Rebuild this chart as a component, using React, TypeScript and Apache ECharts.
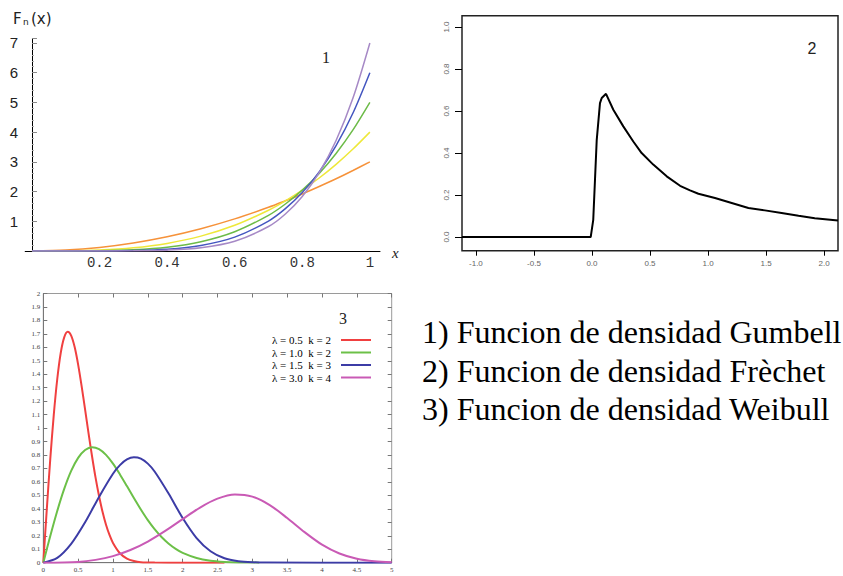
import React, { useEffect, useRef } from "react";
import * as echarts from "echarts";

// ---- Chart 1: Gumbell panel (F_n(x)) ----
const gumbelX = [0, 0.1, 0.2, 0.3, 0.4, 0.5, 0.6, 0.7, 0.75, 0.8, 0.85, 0.9, 0.95, 1];
const gumbelN3 = [0, 0.03, 0.12, 0.27, 0.48, 0.75, 1.08, 1.47, 1.69, 1.92, 2.17, 2.43, 2.71, 3];
const gumbelN4 = [0, 0.004, 0.032, 0.108, 0.256, 0.5, 0.864, 1.372, 1.688, 2.048, 2.456, 2.916, 3.43, 4];
const gumbelN5 = [0, 0.001, 0.008, 0.041, 0.128, 0.313, 0.648, 1.2, 1.582, 2.048, 2.61, 3.281, 4.073, 5];
const gumbelN6 = [0, 0, 0.002, 0.015, 0.061, 0.188, 0.467, 1.008, 1.424, 1.966, 2.662, 3.543, 4.643, 6];
const gumbelN7 = [0, 0, 0, 0.005, 0.029, 0.109, 0.327, 0.824, 1.246, 1.835, 2.64, 3.72, 5.146, 7];
const gumbelSeriesNames = ["n = 3", "n = 4", "n = 5", "n = 6", "n = 7"];
const gumbelXTicks = [0.2, 0.4, 0.6, 0.8, 1];
const gumbelYTicks = [1, 2, 3, 4, 5, 6, 7];

// ---- Chart 2: Frèchet panel ----
const frechetX = [-1.12, -0.011, 0.011, 0.026, 0.041, 0.069, 0.084, 0.121, 0.184, 0.27, 0.356, 0.428, 0.528, 0.644, 0.759, 0.845, 0.917, 1.06, 1.204, 1.348, 1.49, 1.634, 1.78, 1.92, 2.12];
const frechetY = [0, 0, 0.082, 0.273, 0.463, 0.638, 0.662, 0.682, 0.606, 0.527, 0.455, 0.4, 0.345, 0.289, 0.244, 0.222, 0.206, 0.186, 0.162, 0.138, 0.127, 0.114, 0.101, 0.09, 0.079];
const frechetXTicks = [-1, -0.5, 0, 0.5, 1, 1.5, 2];
const frechetYTicks = [0, 0.2, 0.4, 0.6, 0.8, 1];

// ---- Chart 3: Weibull panel ----
const weibullNames = ["λ = 0.5  k = 2", "λ = 1.0  k = 2", "λ = 1.5  k = 3", "λ = 3.0  k = 4"];
const weibullRedX = [0, 0.05, 0.1, 0.15, 0.2, 0.25, 0.3, 0.35, 0.4, 0.45, 0.5, 0.55, 0.6, 0.65, 0.7, 0.75, 0.8, 0.85, 0.9, 0.95, 1.0, 1.1, 1.2, 1.3, 1.4, 1.6, 2.0, 2.6];
const weibullRedY = [0, 0.396, 0.769, 1.097, 1.363, 1.558, 1.674, 1.715, 1.687, 1.602, 1.472, 1.312, 1.137, 0.959, 0.789, 0.632, 0.495, 0.378, 0.282, 0.206, 0.147, 0.07, 0.03, 0.012, 0.004, 0.001, 0, 0];
const weibullGreenX = [0, 0.1, 0.2, 0.3, 0.4, 0.5, 0.6, 0.7, 0.8, 0.9, 1.0, 1.1, 1.2, 1.3, 1.4, 1.5, 1.6, 1.7, 1.8, 1.9, 2.0, 2.2, 2.4, 2.6, 2.8, 3.0, 3.1];
const weibullGreenY = [0, 0.198, 0.384, 0.548, 0.682, 0.779, 0.837, 0.858, 0.844, 0.801, 0.736, 0.656, 0.569, 0.48, 0.395, 0.316, 0.247, 0.189, 0.141, 0.103, 0.073, 0.035, 0.015, 0.006, 0.002, 0.001, 0];
const weibullBlueX = [0, 0.2, 0.4, 0.6, 0.8, 1.0, 1.1, 1.2, 1.3, 1.4, 1.5, 1.6, 1.8, 2.0, 2.2, 2.4, 2.6, 2.8, 3.0, 3.2, 5];
const weibullBlueY = [0, 0.036, 0.14, 0.3, 0.489, 0.661, 0.725, 0.767, 0.783, 0.773, 0.736, 0.676, 0.512, 0.332, 0.183, 0.085, 0.033, 0.011, 0.003, 0.001, 0];
const weibullMagentaX = [0, 0.5, 0.75, 1.0, 1.25, 1.5, 1.75, 2.0, 2.25, 2.5, 2.75, 3.0, 3.25, 3.5, 3.75, 4.0, 4.25, 4.5, 4.75, 5.0];
const weibullMagentaY = [0, 0.006, 0.021, 0.049, 0.094, 0.157, 0.236, 0.324, 0.41, 0.476, 0.507, 0.491, 0.428, 0.332, 0.227, 0.134, 0.068, 0.029, 0.01, 0.003];

// ---- Captions ----
const captions = [
  "1) Funcion de densidad Gumbell",
  "2) Funcion de densidad Frèchet",
  "3) Funcion de densidad Weibull",
];

const zip = (xs: number[], ys: number[]) => xs.map((x, i) => [x, ys[i]]);

export default function App() {
  const ref = useRef<HTMLDivElement>(null);

  useEffect(() => {
    if (!ref.current) return;
    const chart = echarts.init(ref.current, null, { renderer: "svg" });

    const gumbelColors = ["#f6923a", "#eee83a", "#6cbb48", "#4456c0", "#a689c6"];
    const gumbelSets = [gumbelN3, gumbelN4, gumbelN5, gumbelN6, gumbelN7];
    const weibullColors = ["#f04040", "#6cc048", "#3c3ca6", "#c95ab5"];
    const weibullSets = [
      zip(weibullRedX, weibullRedY),
      zip(weibullGreenX, weibullGreenY),
      zip(weibullBlueX, weibullBlueY),
      zip(weibullMagentaX, weibullMagentaY),
    ];

    const series: any[] = [];
    gumbelSets.forEach((ys, i) => {
      series.push({
        type: "line",
        name: gumbelSeriesNames[i],
        xAxisIndex: 0,
        yAxisIndex: 0,
        data: zip(gumbelX, ys),
        smooth: 0.3,
        showSymbol: false,
        lineStyle: { color: gumbelColors[i], width: 1.5 },
        itemStyle: { color: gumbelColors[i] },
      });
    });
    series.push({
      type: "line",
      name: "Frèchet",
      xAxisIndex: 1,
      yAxisIndex: 1,
      data: zip(frechetX, frechetY),
      showSymbol: false,
      lineStyle: { color: "#000", width: 2 },
      itemStyle: { color: "#000" },
    });
    weibullSets.forEach((d, i) => {
      series.push({
        type: "line",
        name: weibullNames[i],
        xAxisIndex: 2,
        yAxisIndex: 2,
        data: d,
        smooth: 0.3,
        showSymbol: false,
        lineStyle: { color: weibullColors[i], width: 2 },
        itemStyle: { color: weibullColors[i] },
      });
    });

    const option: any = {
      animation: false,
      backgroundColor: "#ffffff",
      grid: [
        { left: 25.2, right: 463, top: 38.5, bottom: 325 },
        { left: 462, right: 5, top: 15.7, bottom: 325.3, show: true, borderColor: "#222", borderWidth: 1.5, backgroundColor: "transparent" },
        { left: 43.3, right: 451.3, top: 293.5, bottom: 13.3, show: true, borderColor: "#9a9a9a", borderWidth: 1, backgroundColor: "transparent" },
      ],
      legend: {
        data: weibullNames,
        orient: "vertical",
        left: 267,
        top: 329,
        align: "right",
        icon: "rect",
        itemWidth: 30,
        itemHeight: 2,
        itemGap: 0.5,
        selectedMode: false,
        textStyle: {
          fontFamily: "Liberation Serif",
          fontSize: 11,
          color: "#000",
          lineHeight: 12,
          padding: [0, 5, 0, 0],
        },
      },
      xAxis: [
        {
          gridIndex: 0,
          type: "value",
          min: -0.02,
          max: 1.03,
          axisLine: { onZero: true, lineStyle: { color: "#000", width: 1 } },
          axisTick: { show: false },
          splitLine: { show: false },
          axisLabel: {
            customValues: gumbelXTicks,
            formatter: (v: number) => String(v),
            fontFamily: "Liberation Mono",
            fontSize: 14,
            color: "#333",
            margin: 5,
          },
        },
        {
          gridIndex: 1,
          type: "value",
          min: -1.12,
          max: 2.12,
          axisLine: { show: false, onZero: false },
          axisTick: { show: true, customValues: frechetXTicks, length: 5, lineStyle: { color: "#000", width: 1 } },
          splitLine: { show: false },
          axisLabel: {
            customValues: frechetXTicks,
            formatter: (v: number) => v.toFixed(1),
            fontFamily: "Liberation Sans",
            fontSize: 8,
            color: "#666",
            margin: 9,
          },
        },
        {
          gridIndex: 2,
          type: "value",
          min: 0,
          max: 5,
          interval: 0.5,
          axisLine: { onZero: false, lineStyle: { color: "#777", width: 1 } },
          axisTick: { inside: true, length: 4, lineStyle: { color: "#777" } },
          splitLine: { show: false },
          axisLabel: { fontFamily: "Liberation Serif", fontSize: 7, color: "#444", margin: 4 },
        },
        {
          gridIndex: 2,
          type: "value",
          position: "top",
          min: 0,
          max: 5,
          interval: 0.5,
          axisLine: { show: false, onZero: false },
          axisTick: { inside: true, length: 4, lineStyle: { color: "#777" } },
          splitLine: { show: false },
          axisLabel: { show: false },
        },
      ],
      yAxis: [
        {
          gridIndex: 0,
          type: "value",
          min: 0,
          max: 7.15,
          interval: 1,
          axisLine: { show: true, onZero: true, lineStyle: { color: "#000", width: 1 } },
          axisTick: { show: true, inside: true, length: 5, lineStyle: { color: "#888" } },
          minorTick: { show: true, splitNumber: 5, length: 2, lineStyle: { color: "#aaa" } },
          splitLine: { show: false },
          axisLabel: {
            formatter: (v: number) => (gumbelYTicks.indexOf(v) >= 0 ? String(v) : ""),
            fontFamily: "Liberation Sans",
            fontSize: 15,
            color: "#222",
            margin: 7,
          },
        },
        {
          gridIndex: 1,
          type: "value",
          min: -0.065,
          max: 1.054,
          axisLine: { show: false, onZero: false },
          axisTick: { show: true, customValues: frechetYTicks, length: 7, lineStyle: { color: "#000", width: 1 } },
          splitLine: { show: false },
          axisLabel: {
            customValues: frechetYTicks,
            formatter: (v: number) => v.toFixed(1),
            rotate: 90,
            fontFamily: "Liberation Sans",
            fontSize: 8,
            color: "#666",
            margin: 12,
          },
        },
        {
          gridIndex: 2,
          type: "value",
          min: 0,
          max: 2,
          interval: 0.1,
          axisLine: { show: true, onZero: false, lineStyle: { color: "#777", width: 1 } },
          axisTick: { inside: true, length: 4, lineStyle: { color: "#777" } },
          splitLine: { show: false },
          axisLabel: { fontFamily: "Liberation Serif", fontSize: 7, color: "#444", margin: 3 },
        },
        {
          gridIndex: 2,
          type: "value",
          position: "right",
          min: 0,
          max: 2,
          interval: 0.1,
          axisLine: { show: false, onZero: false },
          axisTick: { inside: true, length: 4, lineStyle: { color: "#777" } },
          splitLine: { show: false },
          axisLabel: { show: false },
        },
      ],
      graphic: [
        { type: "text", x: 13, y: 11, style: { text: "F", fontFamily: "DejaVu Sans", fontSize: 15, fill: "#222" } },
        { type: "text", x: 23, y: 17, style: { text: "n", fontFamily: "DejaVu Sans", fontSize: 9, fill: "#222" } },
        { type: "text", x: 31, y: 11, style: { text: "(x)", fontFamily: "DejaVu Sans", fontSize: 15, fill: "#222" } },
        { type: "text", x: 392, y: 245, style: { text: "x", fontFamily: "Liberation Serif", fontStyle: "italic", fontSize: 15, fill: "#222" } },
        { type: "text", x: 326, y: 57, style: { text: "1", fontFamily: "Liberation Serif", fontSize: 16, fill: "#222", align: "center", verticalAlign: "middle" } },
        { type: "text", x: 812, y: 48, style: { text: "2", fontFamily: "Liberation Sans", fontSize: 16, fill: "#222", align: "center", verticalAlign: "middle" } },
        { type: "text", x: 343, y: 318, style: { text: "3", fontFamily: "Liberation Serif", fontSize: 16, fill: "#222", align: "center", verticalAlign: "middle" } },
        ...captions.map((t, i) => ({
          type: "text",
          x: 422,
          y: 332 + i * 38.5,
          style: { text: t, fontFamily: "Liberation Serif", fontSize: 32, fill: "#000", align: "left", verticalAlign: "middle" },
        })),
      ],
      series,
    };

    chart.setOption(option);
    return () => chart.dispose();
  }, []);

  return (
    <div
      ref={ref}
      style={{ position: "fixed", left: 0, top: 0, width: 843, height: 576, background: "#fff" }}
    />
  );
}
